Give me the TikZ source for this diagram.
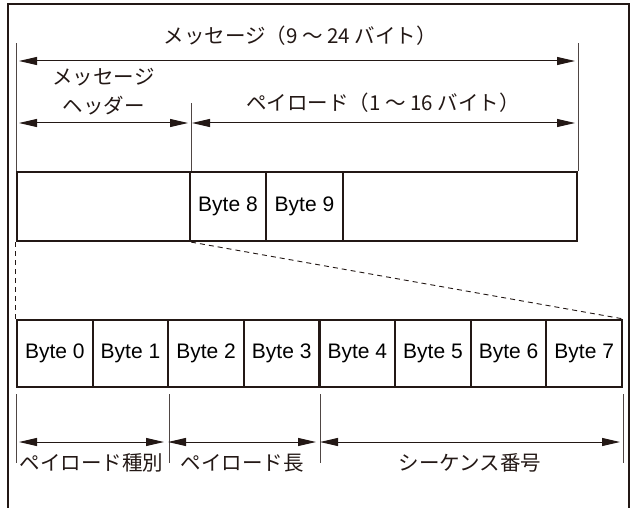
\documentclass[tikz,border=0pt]{standalone}
\usepackage{fontspec}
\setmainfont{Liberation Sans}
\newfontfamily\jpfont{Noto Sans CJK JP}
\usetikzlibrary{arrows.meta,calc}

\definecolor{ink}{HTML}{231815}

\tikzset{
    cell/.style={draw=ink, line width=2.2pt, inner sep=0pt, font=\fontsize{21}{21}\selectfont},
    dimline/.style={draw=ink, line width=1pt, {Triangle[length=18pt,width=8pt]}-{Triangle[length=18pt,width=8pt]}},
    extline/.style={draw=ink!80, line width=0.8pt},
    jplabel/.style={font=\jpfont\fontsize{20.5}{29}\selectfont, text=ink, inner sep=0pt}
}

\begin{document}
\begin{tikzpicture}[x=1pt, y=-1pt]

    % Fix the size of the picture
    \useasboundingbox (0,0) rectangle (634,508);

    % Outer frame (open at the bottom)
    \draw[ink, line width=2.5pt] (8,515) -- (8,4) -- (629,4) -- (629,515);

    % Top box: header, Byte 8, Byte 9, rest of the payload
    \node[cell, minimum width=173pt, minimum height=69pt] (hdr) at (103.5,206.5) {};
    \node[cell, minimum width=76pt, minimum height=69pt] (b8) at (228,206.5) {Byte 8};
    \node[cell, minimum width=77pt, minimum height=69pt] (b9) at (304.5,206.5) {Byte 9};
    \node[cell, minimum width=234pt, minimum height=69pt] (rest) at (460,206.5) {};

    % Bottom box: the eight header bytes
    \foreach \i in {0,...,7}
        \node[cell, minimum width=75.625pt, minimum height=67pt] (c\i) at ({17+75.625*(\i+0.5)},353.5) {Byte \i};

    % Dashed lines from the header to its expansion
    \draw[ink, line width=0.9pt, dash pattern=on 5pt off 4pt] (hdr.south west) -- (c0.north west);
    \draw[ink, line width=0.9pt, dash pattern=on 5pt off 4pt] (hdr.south east) -- (c7.north east);

    % Extension lines above the top box
    \coordinate (tl) at (hdr.north west |- 0,43);
    \coordinate (tr) at (rest.north east |- 0,43);
    \coordinate (tm) at (hdr.north east |- 0,103);
    \draw[extline] (hdr.north west) -- (tl);
    \draw[extline] (rest.north east) -- (tr);
    \draw[extline] (hdr.north east) -- (tm);

    % Extension lines below the bottom box
    \foreach \n/\a in {w0/c0.south west, e1/c1.south east, e3/c3.south east, e7/c7.south east} {
        \coordinate (u\n) at ($(\a)+(0,6)$);
        \coordinate (d\n) at ($(\a)+(0,75)$);
        \draw[extline] (u\n) -- (d\n);
    }

    % Dimension arrows, top
    \coordinate (m1) at (19,61);
    \coordinate (m2) at (575,61);
    \coordinate (h1) at (19,123);
    \coordinate (h2) at (188,123);
    \coordinate (p1) at (192,123);
    \coordinate (p2) at (575,123);
    \draw[dimline] (m1) -- (m2);
    \draw[dimline] (h1) -- (h2);
    \draw[dimline] (p1) -- (p2);

    % Dimension arrows, bottom
    \coordinate (k1) at (19,442);
    \coordinate (k2) at (164,442);
    \coordinate (l1) at (168,442);
    \coordinate (l2) at (316,442);
    \coordinate (s1) at (320,442);
    \coordinate (s2) at (620,442);
    \draw[dimline] (k1) -- (k2);
    \draw[dimline] (l1) -- (l2);
    \draw[dimline] (s1) -- (s2);

    % Labels
    \node[jplabel] (msg) at (300,36) {メッセージ（9 ～ 24 バイト）};
    \node[jplabel, align=center] (hdrlab) at (103.5,92) {メッセージ\\ヘッダー};
    \node[jplabel] (paylab) at (383,103) {ペイロード（1 ～ 16 バイト）};
    \node[jplabel] (typelab) at (91.5,463) {ペイロード種別};
    \node[jplabel] (lenlab) at (242,463) {ペイロード長};
    \node[jplabel] (seqlab) at (470,463) {シーケンス番号};

\end{tikzpicture}
\end{document}
